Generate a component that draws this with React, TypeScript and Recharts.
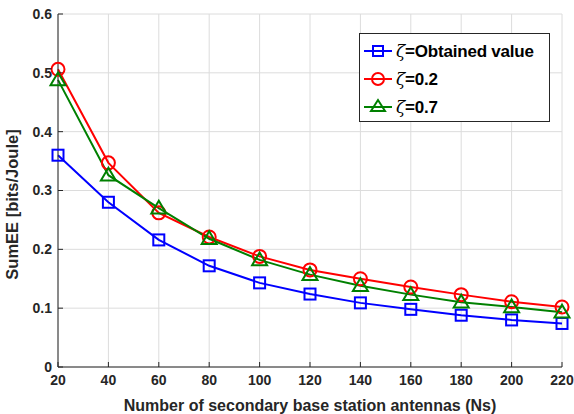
import React from 'react';
import { LineChart, Line, XAxis, YAxis, CartesianGrid, Label } from 'recharts';

const antennas = [20, 40, 60, 80, 100, 120, 140, 160, 180, 200, 220];
const obtainedValue = [0.36, 0.28, 0.216, 0.172, 0.143, 0.124, 0.109, 0.098, 0.088, 0.08, 0.074];
const zeta02 = [0.506, 0.347, 0.262, 0.221, 0.188, 0.165, 0.15, 0.136, 0.123, 0.111, 0.102];
const zeta07 = [0.488, 0.326, 0.27, 0.218, 0.182, 0.157, 0.138, 0.123, 0.11, 0.102, 0.093];
const xTicks = [20, 40, 60, 80, 100, 120, 140, 160, 180, 200, 220];
const yTicks = [0, 0.1, 0.2, 0.3, 0.4, 0.5, 0.6];

const data = antennas.map((n, i) => ({ n, a: obtainedValue[i], b: zeta02[i], c: zeta07[i] }));

const BLUE = '#0000ff';
const RED = '#ff0000';
const GREEN = '#008000';
const AXIS = '#262626';
const FONT = '"Liberation Sans", Arial, Helvetica, sans-serif';

const Square = (p: any) => {
  if (p.cx == null || p.cy == null) return <g key={p.index} />;
  return <rect key={p.index} x={p.cx - 5.5} y={p.cy - 5.5} width={11} height={11} fill="none" stroke={BLUE} strokeWidth={2} />;
};
const Circle = (p: any) => {
  if (p.cx == null || p.cy == null) return <g key={p.index} />;
  return <circle key={p.index} cx={p.cx} cy={p.cy} r={6.5} fill="none" stroke={RED} strokeWidth={2} />;
};
const Tri = (p: any) => {
  if (p.cx == null || p.cy == null) return <g key={p.index} />;
  const s = 7.5;
  return (
    <polygon
      key={p.index}
      points={`${p.cx},${p.cy - s} ${p.cx - s},${p.cy + s * 0.7} ${p.cx + s},${p.cy + s * 0.7}`}
      fill="none"
      stroke={GREEN}
      strokeWidth={2}
    />
  );
};

const legendItems = [
  { label: 'Obtained value', color: BLUE, marker: 'square' },
  { label: '0.2', color: RED, marker: 'circle' },
  { label: '0.7', color: GREEN, marker: 'tri' },
];

const LegendBox = () => (
  <div
    style={{
      position: 'absolute',
      left: 359,
      top: 33,
      width: 189,
      height: 87,
      border: '1px solid #262626',
      background: '#fff',
      fontFamily: FONT,
      boxSizing: 'content-box',
    }}
  >
    {legendItems.map((it, i) => (
      <div key={i} style={{ display: 'flex', alignItems: 'center', height: 28, marginTop: i === 0 ? 3 : 0 }}>
        <svg width={36} height={20} style={{ flex: 'none' }}>
          <line x1={4} y1={10} x2={32} y2={10} stroke={it.color} strokeWidth={2} />
          {it.marker === 'square' && <rect x={13} y={5} width={10} height={10} fill="none" stroke={it.color} strokeWidth={2} />}
          {it.marker === 'circle' && <circle cx={18} cy={10} r={6} fill="none" stroke={it.color} strokeWidth={2} />}
          {it.marker === 'tri' && <polygon points="18,3 11,14 25,14" fill="none" stroke={it.color} strokeWidth={2} />}
        </svg>
        <span style={{ fontSize: 17, fontWeight: 'bold', color: '#000', whiteSpace: 'nowrap', letterSpacing: -0.2 }}>
          <span style={{ fontStyle: 'italic', fontWeight: 'normal', fontFamily: '"DejaVu Serif", serif' }}>ζ</span>={it.label}
        </span>
      </div>
    ))}
  </div>
);

export default function App() {
  return (
    <div style={{ position: 'absolute', left: 0, top: 0, width: 574, height: 414, background: '#fff' }}>
      <LineChart width={574} height={414} data={data} margin={{ top: 14, right: 12, left: 0, bottom: 0 }}>
        <CartesianGrid stroke="#dcdcdc" strokeWidth={1} />
        <XAxis
          dataKey="n"
          type="number"
          domain={[20, 220]}
          ticks={xTicks}
          height={47}
          stroke={AXIS}
          tickSize={-5}
          tick={{ fill: AXIS, fontSize: 14, fontWeight: 'bold', fontFamily: FONT }}
          tickMargin={13}
          interval={0}
        >
          <Label
            value="Number of secondary base station antennas (Ns)"
            position="insideBottom"
            offset={3}
            style={{ fill: AXIS, fontSize: 16, fontWeight: 'bold', fontFamily: FONT }}
          />
        </XAxis>
        <XAxis xAxisId="top" orientation="top" dataKey="n" type="number" domain={[20, 220]} ticks={xTicks} height={0} tick={false} tickSize={-5} stroke={AXIS} />
        <YAxis
          type="number"
          domain={[0, 0.6]}
          ticks={yTicks}
          width={58}
          stroke={AXIS}
          tickSize={-5}
          tickFormatter={(v: number) => (v === 0 ? '0' : String(v))}
          tick={{ fill: AXIS, fontSize: 14, fontWeight: 'bold', fontFamily: FONT }}
          tickMargin={11}
          interval={0}
        >
          <Label
            value="SumEE [bits/Joule]"
            angle={-90}
            position="insideLeft"
            offset={12}
            dy={14}
            style={{ fill: AXIS, fontSize: 16.5, fontWeight: 'bold', fontFamily: FONT, textAnchor: 'middle' }}
          />
        </YAxis>
        <YAxis yAxisId="right" orientation="right" type="number" domain={[0, 0.6]} ticks={yTicks} width={0} tick={false} tickSize={-5} stroke={AXIS} />
        <Line dataKey="a" stroke={BLUE} strokeWidth={2} dot={Square} isAnimationActive={false} />
        <Line dataKey="b" stroke={RED} strokeWidth={2} dot={Circle} isAnimationActive={false} />
        <Line dataKey="c" stroke={GREEN} strokeWidth={2} dot={Tri} isAnimationActive={false} />
      </LineChart>
      <LegendBox />
    </div>
  );
}
